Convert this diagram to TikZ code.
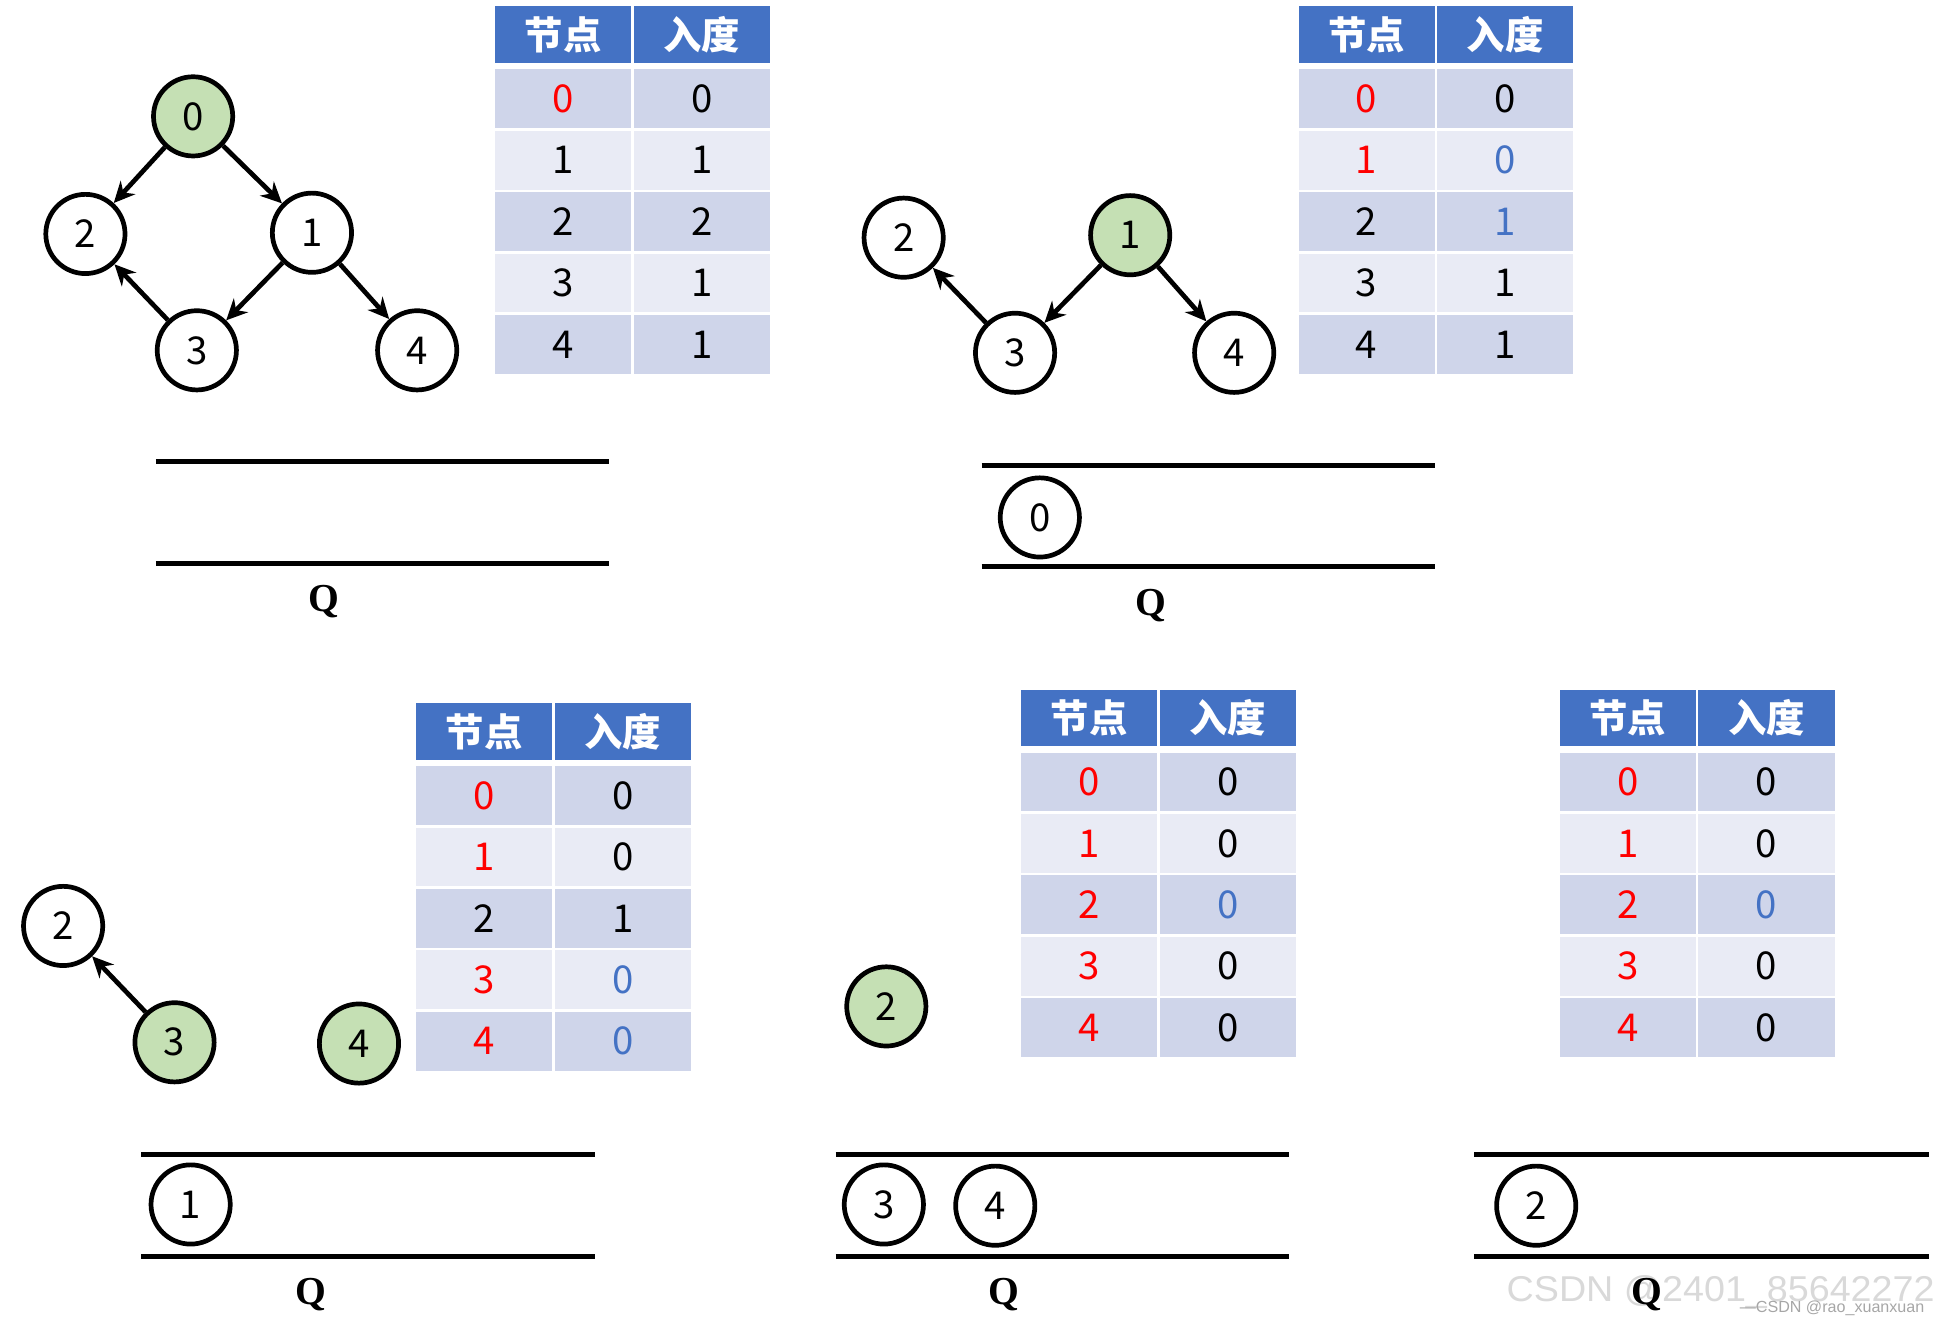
\documentclass[tikz,border=0pt]{standalone}
\usepackage{fontspec}
\newfontfamily\cjk{Noto Sans CJK SC}
\newfontfamily\qfont{Liberation Serif}
\newfontfamily\wmfont{Liberation Sans}
\usetikzlibrary{arrows.meta, positioning}

\definecolor{hdrblue}{HTML}{4472C4}
\definecolor{rowdark}{HTML}{CFD5EA}
\definecolor{rowlight}{HTML}{E9EBF5}
\definecolor{donegreen}{HTML}{C5E0B4}

\tikzset{
    vertex/.style  = {circle, draw=black, line width=1.9pt, fill=white,
                      minimum size=32pt, inner sep=0pt,
                      font=\cjk\fontsize{15.5}{15.5}\selectfont},
    done/.style    = {vertex, fill=donegreen},
    edge/.style    = {-{Stealth[length=8.5pt,width=8pt]}, line width=1.9pt},
    hdrcell/.style = {rectangle, fill=hdrblue, text=white, minimum width=55pt,
                      minimum height=23pt, inner sep=0pt,
                      font=\cjk\bfseries\fontsize{15.5}{15.5}\selectfont},
    cell/.style    = {rectangle, minimum width=55pt, minimum height=23.75pt,
                      inner sep=0pt, font=\cjk\fontsize{15.5}{15.5}\selectfont},
    qline/.style   = {line width=2pt},
    qlabel/.style  = {font=\qfont\bfseries\fontsize{16}{16}\selectfont},
}

% in-degree table: prefix, left, top, rows id/idcolour/deg/degcolour
\newcommand{\degtable}[4]{%
  \begin{scope}[shift={(#2,#3)}]
    \node[hdrcell] (#1-h1) at (55,23)  {节点};
    \node[hdrcell] (#1-h2) at (167,23) {入度};
    \foreach \id/\ic/\dg/\dc [count=\r] in {#4} {
      \ifodd\r \def\rowfill{rowdark}\else \def\rowfill{rowlight}\fi
      \node[cell, fill=\rowfill, text=\ic] (#1-r\r-id)
        at (55, {74.75+(\r-1)*49.6}) {\id};
      \node[cell, fill=\rowfill, text=\dc] (#1-r\r-deg)
        at (167, {74.75+(\r-1)*49.6}) {\dg};
    }
  \end{scope}}

\begin{document}
\begin{tikzpicture}[x=0.5pt, y=-0.5pt]
\useasboundingbox (0,0) rectangle (1568,1072);

% step 1
\node[done]   (a0) at (156,94)  {0};
\node[vertex] (a2) at (69,189)  {2};
\node[vertex] (a1) at (252,188) {1};
\node[vertex] (a3) at (159,283) {3};
\node[vertex] (a4) at (337,283) {4};
\draw[edge] (a0) -- (a2);
\draw[edge] (a0) -- (a1);
\draw[edge] (a1) -- (a3);
\draw[edge] (a1) -- (a4);
\draw[edge] (a3) -- (a2);
\degtable{ta}{400}{5}{0/red/0/black, 1/black/1/black, 2/black/2/black,
  3/black/1/black, 4/black/1/black}
\draw[qline] (126,373) -- (492,373);
\draw[qline] (126,455) -- (492,455);
\node[qlabel] (qa) at (262,486) {Q};

% step 2
\node[vertex] (b2) at (730,192) {2};
\node[done]   (b1) at (913,190) {1};
\node[vertex] (b3) at (820,285) {3};
\node[vertex] (b4) at (997,285) {4};
\draw[edge] (b1) -- (b3);
\draw[edge] (b1) -- (b4);
\draw[edge] (b3) -- (b2);
\degtable{tb}{1049}{5}{0/red/0/black, 1/red/0/hdrblue, 2/black/1/hdrblue,
  3/black/1/black, 4/black/1/black}
\draw[qline] (793,376) -- (1159,376);
\draw[qline] (793,458) -- (1159,458);
\node[vertex] (qb0) at (840,418) {0};
\node[qlabel] (qb) at (930,489) {Q};

% step 3
\node[vertex] (c2) at (51,748)  {2};
\node[done]   (c3) at (141,842) {3};
\node[done]   (c4) at (290,843) {4};
\draw[edge] (c3) -- (c2);
\degtable{tc}{336}{568}{0/red/0/black, 1/red/0/black, 2/black/1/black,
  3/red/0/hdrblue, 4/red/0/hdrblue}
\draw[qline] (114,933) -- (481,933);
\draw[qline] (114,1015) -- (481,1015);
\node[vertex] (qc1) at (154,973) {1};
\node[qlabel] (qc) at (251,1046) {Q};

% step 4
\node[done] (d2) at (716,813) {2};
\degtable{td}{825}{557}{0/red/0/black, 1/red/0/black, 2/red/0/hdrblue,
  3/red/0/black, 4/red/0/black}
\draw[qline] (675,933) -- (1041,933);
\draw[qline] (675,1015) -- (1041,1015);
\node[vertex] (qd3) at (714,973) {3};
\node[vertex] (qd4) at (804,974) {4};
\node[qlabel] (qd) at (811,1046) {Q};

% step 5
\degtable{te}{1260}{557}{0/red/0/black, 1/red/0/black, 2/red/0/hdrblue,
  3/red/0/black, 4/red/0/black}
\draw[qline] (1191,933) -- (1558,933);
\draw[qline] (1191,1015) -- (1558,1015);
\node[vertex] (qe2) at (1241,974) {2};

% watermark
\node[text=gray!30, font=\wmfont\fontsize{14.5}{14.5}\selectfont,
      xscale=1.05, transform shape] (wm1) at (1390,1044) {CSDN @2401\_85642272};
\node[text=gray!70, font=\wmfont\fontsize{6.5}{6.5}\selectfont]
  (wm2) at (1480,1057) {—CSDN @rao\_xuanxuan};
\node[qlabel] (qe) at (1330,1046) {Q};

\end{tikzpicture}
\end{document}
